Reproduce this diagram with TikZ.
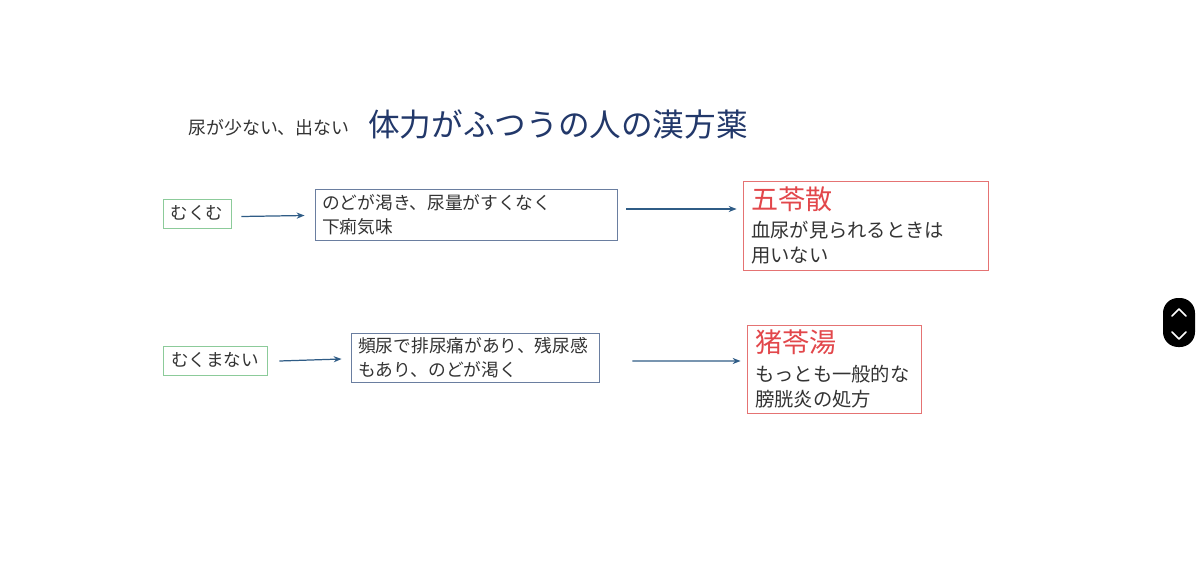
\documentclass[tikz,border=0pt]{standalone}
\usepackage{fontspec}
\setmainfont{Noto Sans CJK JP}
\usepackage{xcolor}
\usetikzlibrary{calc}
\usetikzlibrary{arrows.meta}
\definecolor{kgreen}{HTML}{8CCB9A}
\definecolor{kblue}{HTML}{6A7EA0}
\definecolor{kred}{HTML}{E2474B}
\definecolor{kredline}{HTML}{E57373}
\definecolor{ktext}{HTML}{333333}
\definecolor{knavy}{HTML}{22386A}
\definecolor{karrow}{HTML}{2F5C86}

\tikzset{
  symp/.style={draw=kgreen,line width=0.55pt,text=ktext,inner sep=0pt,font=\fontsize{10}{14}\selectfont},
  cond/.style={draw=kblue,line width=0.55pt,text=ktext,inner xsep=0.14cm,inner ysep=0pt,align=left,font=\fontsize{10.1}{13.7}\selectfont},
  kampo/.style={draw=kredline,line width=0.55pt,text=ktext,inner xsep=0.16cm,inner ysep=0pt,align=left,font=\fontsize{11}{14.2}\selectfont},
  arr/.style={draw=karrow,line width=0.7pt,-{Stealth[length=4.5pt,width=3.5pt]}}
}

\begin{document}
\begin{tikzpicture}[x=0.02cm,y=-0.02cm]
\useasboundingbox (0,0) rectangle (1200,584);

\node[text=ktext,font=\fontsize{10.2}{12}\selectfont] at (269,128) (sub) {尿が少ない、出ない};
\node[text=knavy,font=\fontsize{18}{22}\selectfont] at (558,124) (title) {体力がふつうの人の漢方薬};

% upper row
\node[symp,minimum width=1.36cm,minimum height=0.58cm] at (197,213.5) (muku) {むくむ};
\node[cond,text width=5.78cm,minimum height=1.02cm] at (466.5,214.5) (kawaki) {のどが渇き、尿量がすくなく\\下痢気味};
\node[kampo,text width=4.58cm,minimum height=1.78cm] at (865.5,225.5) (goreisan) {{\color{kred}\fontsize{15.4}{18}\selectfont 五苓散}\\[2pt]血尿が見られるときは\\用いない};
\draw[arr] ($(muku.east)+(10,3)$) -- ($(kawaki.west)+(-10,1)$);
\draw[arr] ($(kawaki.east)+(8,-5.5)$) -- ($(goreisan.west)+(-6,-16.5)$);

% lower row
\node[symp,minimum width=2.08cm,minimum height=0.58cm] at (215,360.5) (mukumanai) {むくまない};
\node[cond,text width=4.7cm,minimum height=0.98cm] at (475.5,357.5) (hinnyo) {頻尿で排尿痛があり、残尿感\\もあり、のどが渇く};
\node[kampo,text width=3.16cm,minimum height=1.76cm] at (834,369) (choreito) {{\color{kred}\fontsize{15.4}{18}\selectfont 猪苓湯}\\[2pt]もっとも一般的な\\膀胱炎の処方};
\draw[arr] ($(mukumanai.east)+(12,0.5)$) -- ($(hinnyo.west)+(-9,1.5)$);
\draw[arr] ($(hinnyo.east)+(32,3.5)$) -- ($(choreito.west)+(-6,-8)$);

% scroll widget
\fill[black,rounded corners=0.3cm] (1163,298) rectangle (1195,347);
\draw[white,line width=0.9pt,line cap=round,line join=round] (1172,316) -- (1179,309) -- (1186,316);
\draw[white,line width=0.9pt,line cap=round,line join=round] (1172,332) -- (1179,339) -- (1186,332);
\end{tikzpicture}
\end{document}
